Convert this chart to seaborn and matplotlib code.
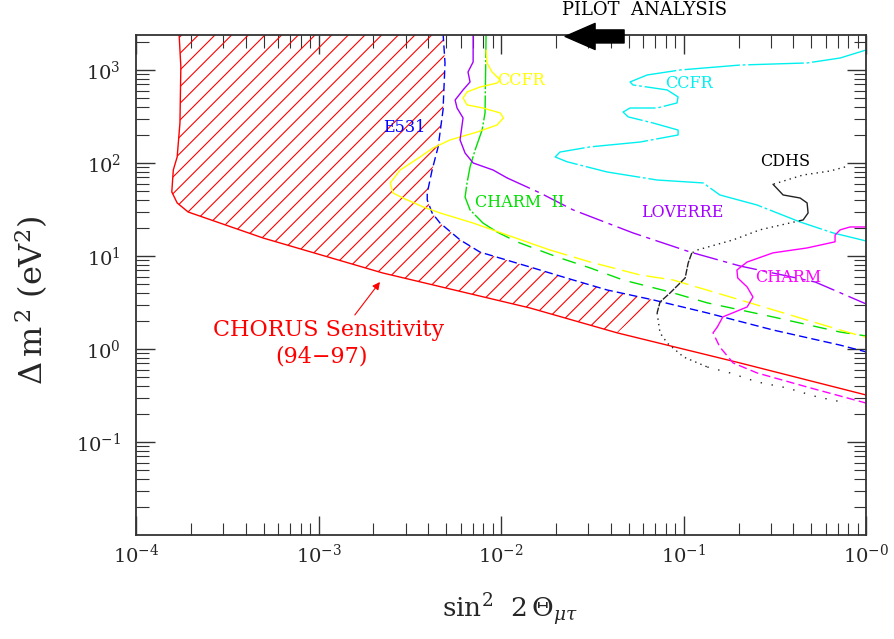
import numpy as np
import seaborn as sns
from matplotlib import pyplot as plt
from matplotlib.ticker import LogLocator, NullFormatter

# ---- values (sin^2 2theta , delta m^2 in eV^2) ----
# CHORUS sensitivity (red, solid + hatch)
chorus_x = [1.72e-4, 1.76e-4, 1.74e-4, 1.68e-4, 1.60e-4, 1.57e-4, 1.68e-4, 1.93e-4,
            4.97e-4, 2.25e-3, 1.44e-2, 4.33e-2, 0.204, 1.0]
chorus_y = [2500, 1080, 269, 116, 84, 48.8, 37.2, 29.7, 15.6, 6.56, 2.76, 1.49, 0.707, 0.32]

# E531 (blue dashed)
e531_x = [4.81e-3, 4.93e-3, 4.81e-3, 4.52e-3, 4.19e-3, 3.94e-3, 3.94e-3, 4.19e-3, 4.63e-3,
          5.96e-3, 7.67e-3, 1.50e-2, 2.48e-2, 3.81e-2, 6.81e-2, 0.135, 0.309, 0.721, 1.0]
e531_y = [2500, 1190, 372, 149, 84, 47.5, 40, 29, 22.6, 14.9, 11.0, 7.43, 5.52, 4.31, 3.37,
          2.44, 1.60, 1.10, 0.93]

# CHARM II (green)
charm2_top_x = [8.28e-3, 8.17e-3, 7.87e-3, 7.21e-3, 6.76e-3, 6.51e-3, 6.35e-3, 6.76e-3, 7.96e-3, 9.51e-3]
charm2_top_y = [2500, 345, 226, 138, 90.6, 61, 43, 31.3, 22.6, 18.1]
charm2_low_x = [9.51e-3, 1.22e-2, 2.03e-2, 3.08e-2, 4.66e-2, 8.43e-2, 0.135, 0.309, 0.721, 1.0]
charm2_low_y = [18.1, 14.2, 9.75, 7.43, 5.52, 4.10, 3.13, 2.21, 1.52, 1.38]

# CCFR (yellow)
ccfr_top_x = [8.28e-3, 8.37e-3, 8.93e-3, 9.89e-3, 9.51e-3, 7.67e-3, 6.51e-3, 6.19e-3, 6.51e-3,
              7.96e-3, 9.89e-3, 1.03e-2, 9.51e-3, 7.38e-3, 5.26e-3, 4.24e-3, 3.60e-3, 2.80e-3,
              2.47e-3, 2.56e-3, 2.90e-3, 3.74e-3, 4.63e-3, 7.03e-3, 1.08e-2, 1.85e-2]
ccfr_top_y = [1640, 1190, 951, 780, 724, 656, 580, 500, 421, 390, 345, 305, 256, 215, 177, 145,
              116, 84, 61, 47.5, 42, 33.7, 29, 22.6, 16.8, 11.6]
ccfr_low_x = [1.85e-2, 3.08e-2, 5.78e-2, 8.75e-2, 0.204, 0.384, 0.721, 1.0]
ccfr_low_y = [11.6, 8.61, 6.25, 5.52, 3.37, 2.32, 1.60, 1.33]

# LOVERRE (purple)
loverre_top_x = [7.03e-3, 7.03e-3, 6.59e-3, 6.76e-3, 6.19e-3, 5.60e-3, 5.74e-3, 6.19e-3,
                 5.96e-3, 6.35e-3, 7.03e-3, 9.04e-3, 1.08e-2]
loverre_top_y = [2500, 1220, 951, 743, 610, 475, 390, 305, 177, 128, 100, 84, 69]
loverre_low_x = [1.08e-2, 1.64e-2, 2.48e-2, 5.28e-2, 0.109, 0.204, 0.526, 1.0]
loverre_low_y = [69, 47.5, 31.3, 17.7, 11.0, 7.8, 5.25, 3.05]

# CCFR (cyan)
cyan_x = [1.0, 0.721, 0.475, 0.204, 9.57e-2, 6.31e-2, 5.09e-2, 5.28e-2, 8.13e-2, 9.33e-2,
          9.2e-2, 7.16e-2, 5.09e-2, 4.66e-2, 4.97e-2, 6.81e-2, 9.33e-2, 9.33e-2, 5.78e-2,
          3.08e-2, 2.10e-2, 1.98e-2, 2.30e-2, 3.81e-2, 7.16e-2, 0.128, 0.158, 0.253, 0.435,
          0.659, 1.0]
cyan_y = [1640, 1345, 1190, 1130, 1000, 883, 743, 690, 610, 513, 442, 390, 390, 353, 313, 269,
          226, 200, 168, 149, 131, 116, 103, 80, 65.6, 61, 45.3, 35.3, 23.2, 17.7, 14.5]

# CDHS (black, pieces drawn dotted / solid)
cdhs_a_x = [0.767, 0.635, 0.452, 0.309]
cdhs_a_y = [90.6, 82, 74.3, 59]
cdhs_b_x = [0.309, 0.351, 0.435, 0.475, 0.481, 0.452, 0.435]
cdhs_b_y = [59, 45.3, 42, 37.2, 29, 24.4, 24.0]
cdhs_c_x = [0.435, 0.262, 0.187, 0.119, 0.111]
cdhs_c_y = [24.0, 19.1, 14.9, 11.6, 10.8]
cdhs_d_x = [0.111, 0.106, 0.102, 0.0843, 0.0743, 0.0716]
cdhs_d_y = [10.8, 8.41, 5.80, 4.00, 3.20, 2.44]
cdhs_e_x = [0.0716, 0.0743, 0.0813, 0.100, 0.135]
cdhs_e_y = [2.44, 1.49, 1.16, 0.82, 0.64]
cdhs_f_x = [0.135, 0.180, 0.253, 0.369, 0.540, 0.787]
cdhs_f_y = [0.64, 0.552, 0.442, 0.381, 0.305, 0.262]

# CHARM (magenta)
charm_top_x = [1.0, 0.817, 0.721, 0.676, 0.676, 0.475, 0.309, 0.223, 0.196, 0.198, 0.223,
               0.240, 0.223, 0.164, 0.153]
charm_top_y = [20.5, 20.5, 19.1, 16.8, 14.2, 12.2, 10.8, 8.61, 7.06, 5.80, 4.64, 3.62, 2.83,
               2.21, 1.72]
charm_low_x = [0.153, 0.145, 0.158, 0.187, 0.253, 0.475, 1.0]
charm_low_y = [1.72, 1.49, 1.05, 0.707, 0.552, 0.390, 0.262]

x_ticks = [1e-4, 1e-3, 1e-2, 1e-1, 1.0]
x_tick_labels = [r'$10^{-4}$', r'$10^{-3}$', r'$10^{-2}$', r'$10^{-1}$', r'$10^{-0}$']
y_ticks = [0.1, 1, 10, 100, 1000]
y_tick_labels = [r'$10^{-1}$', r'$10^{0}$', r'$10^{1}$', r'$10^{2}$', r'$10^{3}$']

# ---- plot ----
sns.set_theme(style='ticks')
plt.rcParams['font.family'] = ['DejaVu Serif']
plt.rcParams['mathtext.fontset'] = 'dejavuserif'
plt.rcParams['hatch.linewidth'] = 0.8

fig = plt.figure(figsize=(8.95, 6.39), dpi=100)
ax = fig.add_axes([0.152, 0.1628, 0.8157, 0.7825])
ax.set_xscale('log')
ax.set_yscale('log')

RED, BLUE, GREEN, YELLOW = '#ff0000', '#0000ff', '#00e000', '#ffff00'
PURPLE, CYAN, BLACK, MAGENTA = '#a400ff', '#00f0f0', '#222222', '#ff00ff'


def curve(x, y, color, ls='-', lw=1.0):
    sns.lineplot(x=x, y=y, sort=False, estimator=None, color=color,
                 linestyle=ls, linewidth=lw, ax=ax)


# hatched region between CHORUS line and E531 curve
fill_x = chorus_x[:12] + e531_x[14::-1]
fill_y = chorus_y[:12] + e531_y[14::-1]
ax.fill(fill_x, fill_y, facecolor='none', edgecolor=RED, hatch='//', linewidth=0, zorder=1)

curve(chorus_x, chorus_y, RED)
curve(e531_x, e531_y, BLUE, (0, (6, 3)))
curve(charm2_top_x, charm2_top_y, GREEN, (0, (18, 1.5, 1.5, 1.5)))
curve(charm2_low_x, charm2_low_y, GREEN, (0, (10, 7)))
curve(ccfr_top_x, ccfr_top_y, YELLOW)
curve(ccfr_low_x, ccfr_low_y, YELLOW, (0, (13, 5)))
curve(loverre_top_x, loverre_top_y, PURPLE)
curve(loverre_low_x, loverre_low_y, PURPLE, (0, (18, 4, 3, 4)))
curve(cyan_x, cyan_y, CYAN, (0, (40, 2, 2, 2)))
curve(cdhs_a_x, cdhs_a_y, BLACK, (0, (1, 3)))
curve(cdhs_b_x, cdhs_b_y, BLACK)
curve(cdhs_c_x, cdhs_c_y, BLACK, (0, (1, 3)))
curve(cdhs_d_x, cdhs_d_y, BLACK, (0, (5, 1)))
curve(cdhs_e_x, cdhs_e_y, BLACK, (0, (1, 3)))
curve(cdhs_f_x, cdhs_f_y, BLACK, (0, (1, 7)))
curve(charm_top_x, charm_top_y, MAGENTA)
curve(charm_low_x, charm_low_y, MAGENTA, (0, (6, 3)))

ax.set_xlim(1e-4, 1.0)
ax.set_ylim(1e-2, 2380)

# curve labels
lab = dict(ha='left', va='center', fontsize=11.5)
ax.text(9.5e-3, 780, 'CCFR', color=YELLOW, **lab)
ax.text(7.9e-2, 724, 'CCFR', color=CYAN, **lab)
ax.text(2.25e-3, 238, 'E531', color=BLUE, **lab)
ax.text(0.262, 103, 'CDHS', color='black', **lab)
ax.text(7.2e-3, 37.2, 'CHARM  II', color=GREEN, **lab)
ax.text(5.85e-2, 29, 'LOVERRE', color=PURPLE, **lab)
ax.text(0.247, 5.8, 'CHARM', color=MAGENTA, **lab)

ax.text(1.13e-3, 1.60, 'CHORUS Sensitivity', color=RED, ha='center', va='center', fontsize=16)
ax.text(1.04e-3, 0.82, '(94\u221297)', color=RED, ha='center', va='center', fontsize=16)
ax.annotate('', xy=(2.17e-3, 5.25), xytext=(1.58e-3, 2.32),
            arrowprops=dict(arrowstyle='-|>', color=RED, lw=0.8, mutation_scale=11,
                            shrinkA=0, shrinkB=0))

# pilot analysis arrow above the frame
ax.text(0.697, 1.05, 'PILOT  ANALYSIS', transform=ax.transAxes, ha='center', va='center',
        fontsize=13, color='black')
ax.annotate('', xy=(0.5877, 0.997), xytext=(0.6685, 0.997), xycoords='axes fraction',
            arrowprops=dict(arrowstyle='simple,head_length=1.08,head_width=0.94,tail_width=0.47',
                            color='black', shrinkA=0, shrinkB=0, mutation_scale=20))

# axes / ticks
ax.set_xticks(x_ticks, x_tick_labels)
ax.set_yticks(y_ticks, y_tick_labels)
for axis in (ax.xaxis, ax.yaxis):
    axis.set_minor_locator(LogLocator(base=10, subs=np.arange(2, 10), numticks=20))
    axis.set_minor_formatter(NullFormatter())
ax.tick_params(which='both', direction='in', top=True, right=True, color='#333333')
ax.tick_params(which='major', length=14, width=1.0, labelsize=14)
ax.tick_params(which='minor', length=9, width=0.8)
ax.tick_params(axis='y', which='major', pad=11)
ax.tick_params(axis='x', which='major', pad=6)
for sp in ax.spines.values():
    sp.set_linewidth(1.3)
    sp.set_color('#333333')

ax.set_xlabel(r'$\mathrm{sin}^2\ \ 2\,\Theta_{\mu\tau}$', fontsize=19)
ax.xaxis.set_label_coords(0.512, -0.114)
ax.set_ylabel(r'$\Delta\,\mathrm{m}^{\,2}\ (\mathrm{eV}^{2})$', fontsize=23)
ax.yaxis.set_label_coords(-0.118, 0.47)

fig.savefig('out.png', dpi=100)
